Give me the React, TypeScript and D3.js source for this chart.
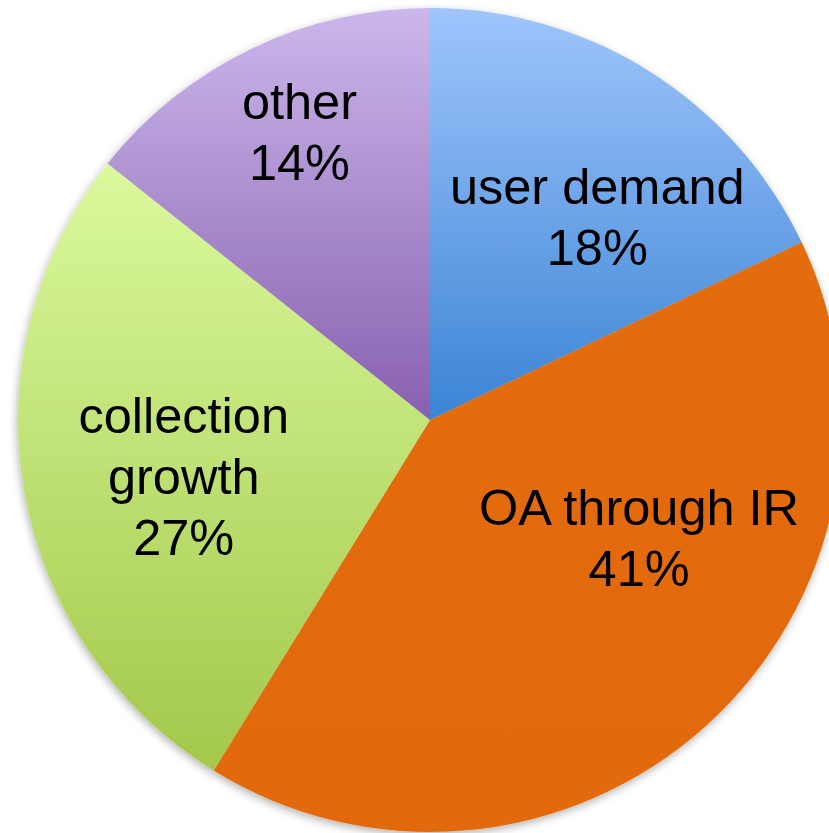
import React, { useEffect, useRef } from "react";
import * as d3 from "d3";

// Slice data (clockwise from 12 o'clock)
const labels = ["user demand", "OA through IR", "collection growth", "other"];
const labelLines = [["user demand", "18%"], ["OA through IR", "41%"], ["collection", "growth", "27%"], ["other", "14%"]];
const shares = [17.9, 40.9, 26.9, 14.3];

// gradient stops per slice (top -> bottom)
const topColors = ["#9fc5fc", "#e36c0b", "#dbf99d", "#cbb7eb"];
const bottomColors = ["#3b84d4", "#e26a0a", "#a3c84b", "#8860af"];

const W = 829;
const H = 833;

function App() {
  const svgRef = useRef<SVGSVGElement | null>(null);

  useEffect(() => {
    if (!svgRef.current) return;
    const svg = d3.select(svgRef.current);
    svg.selectAll("*").remove();

    const cx = 430;
    const cy = 420;
    const radius = 412;

    const defs = svg.append("defs");
    labels.forEach((_, i) => {
      const g = defs.append("linearGradient")
        .attr("id", `grad${i}`)
        .attr("x1", 0).attr("y1", 0).attr("x2", 0).attr("y2", 1);
      g.append("stop").attr("offset", "0%").attr("stop-color", topColors[i]);
      g.append("stop").attr("offset", "100%").attr("stop-color", bottomColors[i]);
    });
    const shadow = defs.append("filter").attr("id", "shadow")
      .attr("x", "-10%").attr("y", "-10%").attr("width", "120%").attr("height", "120%");
    shadow.append("feDropShadow")
      .attr("dx", -1).attr("dy", 3).attr("stdDeviation", 4)
      .attr("flood-color", "#000").attr("flood-opacity", 0.3);

    const pie = d3.pie<number>().sort(null).value(d => d);
    const arcs = pie(shares);
    const arc = d3.arc<d3.PieArcDatum<number>>().innerRadius(0).outerRadius(radius);
    const labelArc = d3.arc<d3.PieArcDatum<number>>().innerRadius(250).outerRadius(250);

    const chart = svg.append("g").attr("transform", `translate(${cx},${cy})`);

    const slices = chart.append("g").attr("filter", "url(#shadow)");
    slices.selectAll("path")
      .data(arcs)
      .join("path")
      .attr("d", arc)
      .attr("fill", (_, i) => `url(#grad${i})`);

    // Keynote-style label placement tweaks
    const nudge = [[34, 9], [42, -67], [0, 14], [-22, -62]];
    const lh = 61;

    arcs.forEach((a, i) => {
      const [x, y] = labelArc.centroid(a);
      const ax = x + nudge[i][0];
      const ay = y + nudge[i][1];
      const lines = labelLines[i];
      const t = chart.append("text")
        .attr("text-anchor", "middle")
        .attr("font-family", "'Liberation Sans', Arial, Helvetica, sans-serif")
        .attr("font-size", 50.5)
        .attr("fill", "#000");
      lines.forEach((ln, j) => {
        t.append("tspan")
          .attr("x", ax)
          .attr("y", ay - ((lines.length - 1) * lh) / 2 + j * lh + 17)
          .text(ln);
      });
    });
  }, []);

  return (
    <svg
      ref={svgRef}
      width={W}
      height={H}
      style={{ position: "absolute", left: 0, top: 0, background: "#fff" }}
    />
  );
}

export default App;
